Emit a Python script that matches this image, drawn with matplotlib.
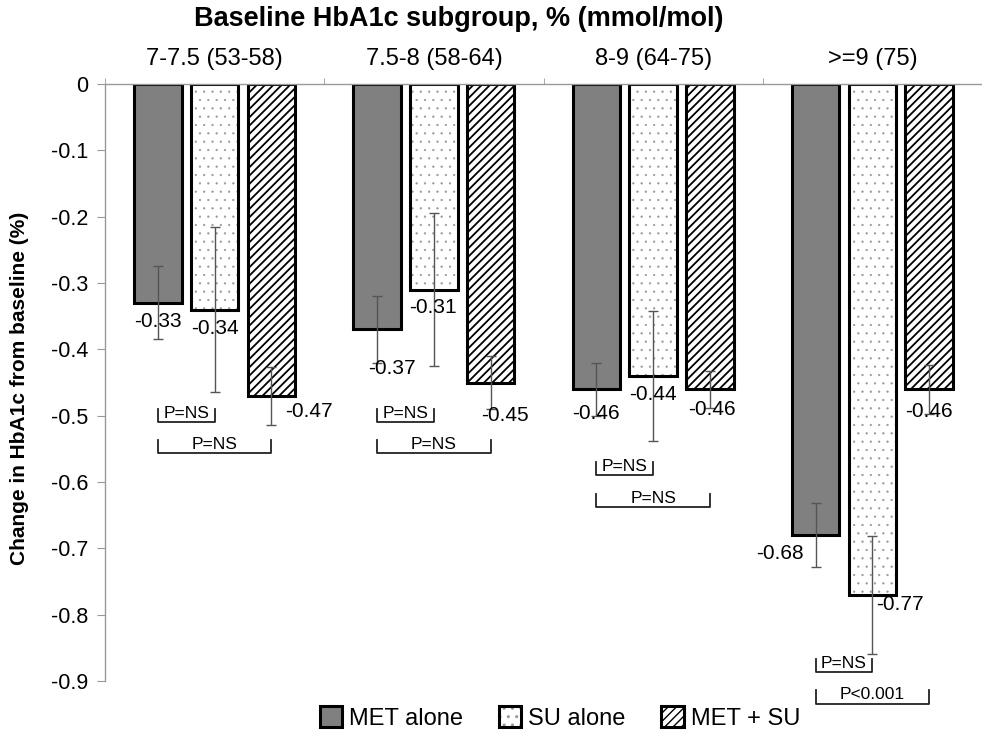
import numpy as np
import matplotlib.pyplot as plt

plt.rcParams['font.family'] = ['Liberation Sans', 'DejaVu Sans']

# data
groups = ['7-7.5 (53-58)', '7.5-8 (58-64)', '8-9 (64-75)', '>=9 (75)']
met = [-0.33, -0.37, -0.46, -0.68]
su = [-0.34, -0.31, -0.44, -0.77]
metsu = [-0.47, -0.45, -0.46, -0.46]
met_err = [0.055, 0.05, 0.04, 0.048]
su_err = [0.124, 0.115, 0.098, 0.089]
metsu_err = [0.044, 0.04, 0.028, 0.037]
series_names = ['MET alone', 'SU alone', 'MET + SU']

# p-value brackets: first MET vs SU, then MET vs MET+SU
p_labels = [['P=NS', 'P=NS'], ['P=NS', 'P=NS'], ['P=NS', 'P=NS'], ['P=NS', 'P<0.001']]
p_levels = [[-0.510, -0.557], [-0.510, -0.557], [-0.590, -0.638], [-0.887, -0.934]]

yticks = [0, -0.1, -0.2, -0.3, -0.4, -0.5, -0.6, -0.7, -0.8, -0.9]

# label offsets (pixels) from bar ends
met_lab = [(0, -19), (15, -39), (0, -24), (-36, -18)]
su_lab = [(0, -19), (-1, -18), (0, -19), (28, -10)]
ms_lab = [(38, -16), (14, -33), (2, -20), (0, -22)]

x = np.arange(len(groups))
w = 0.216
off = 0.259

fig = plt.figure(figsize=(9.82, 7.4), dpi=100)
ax = fig.add_axes([105/982, 1 - 681/740, 877/982, 597/740])

b_met = ax.bar(x - off, met, w, color='#808080', edgecolor='black', linewidth=2.2, zorder=2)
with plt.rc_context({'hatch.linewidth': 0.4}):
    b_su_fill = ax.bar(x, su, w, color='white', edgecolor='#999999', hatch='..', linewidth=0, zorder=2)
b_su_edge = ax.bar(x, su, w, fill=False, edgecolor='black', linewidth=2.2, zorder=2)
with plt.rc_context({'hatch.linewidth': 1.3}):
    b_ms = ax.bar(x + off, metsu, w, color='white', edgecolor='black', hatch='////', linewidth=2.2, zorder=2)

for xs, vals, errs in [(x - off, met, met_err), (x, su, su_err), (x + off, metsu, metsu_err)]:
    ax.errorbar(xs, vals, yerr=errs, fmt='none', ecolor='#555555', elinewidth=1,
                capsize=3.6, capthick=1, zorder=3)

for xs, vals, offs in [(x - off, met, met_lab), (x, su, su_lab), (x + off, metsu, ms_lab)]:
    for xi, v, (dx, dy) in zip(xs, vals, offs):
        ax.annotate(f'{v:.2f}', (xi, v), xytext=(dx, dy), textcoords='offset pixels',
                    ha='center', va='center', fontsize=15, zorder=4)

# significance brackets
tick_h = 0.02
for g in range(len(groups)):
    for k in range(2):
        lvl = p_levels[g][k]
        x0 = x[g] - off
        x1 = x[g] if k == 0 else x[g] + off
        ax.plot([x0, x0, x1, x1], [lvl + tick_h, lvl, lvl, lvl + tick_h],
                color='#222222', lw=1.3, clip_on=False, zorder=4)
        ax.annotate(p_labels[g][k], ((x0 + x1) / 2, lvl), xytext=(0, 9),
                    textcoords='offset pixels', ha='center', va='center',
                    fontsize=12.5, annotation_clip=False)

ax.set_ylim(-0.9, 0)
ax.set_xlim(-0.5, 3.45)
ax.set_yticks(yticks)
ax.set_yticklabels(['0' if t == 0 else f'{t:.1f}' for t in yticks])
ax.tick_params(axis='y', direction='out', length=5.8, color='#999999', labelsize=15.5, pad=6)

ax.xaxis.tick_top()
ax.set_xticks(x)
ax.set_xticklabels(groups)
ax.set_xticks(np.arange(-0.5, 3.6, 1), minor=True)
ax.tick_params(axis='x', which='major', length=0, labelsize=17, pad=10)
ax.tick_params(axis='x', which='minor', length=4, color='#999999')

for s in ['right', 'bottom']:
    ax.spines[s].set_visible(False)
for s in ['left', 'top']:
    ax.spines[s].set_color('#999999')
    ax.spines[s].set_linewidth(1)

fig.text(459/982, 1 - 19/740, 'Baseline HbA1c subgroup, % (mmol/mol)', fontweight='bold',
         fontsize=19.5, ha='center', va='center')
fig.text(20/982, 1 - 388/740, 'Change in HbA1c from baseline (%)', fontweight='bold',
         fontsize=15, rotation=90, ha='center', va='center')

fig.legend([b_met[0], (b_su_fill[0], b_su_edge[0]), b_ms[0]], series_names,
           loc='center', bbox_to_anchor=(560/982, 1 - 718/740), ncol=3, frameon=False,
           fontsize=17, handlelength=0.95, handleheight=0.95, handletextpad=0.3,
           columnspacing=1.5)

fig.savefig('out.png', dpi=100)
